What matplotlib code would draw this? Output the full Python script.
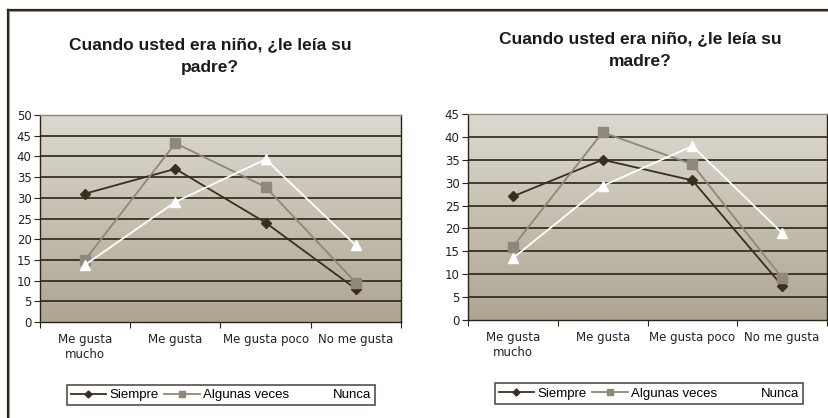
import matplotlib
matplotlib.use("Agg")
import matplotlib.pyplot as plt
import numpy as np
from matplotlib.lines import Line2D
from matplotlib.colors import LinearSegmentedColormap

categories = ["Me gusta\nmucho", "Me gusta", "Me gusta poco", "No me gusta"]
series_names = ["Siempre", "Algunas veces", "Nunca"]

padre_siempre = [31, 37, 24, 8]
padre_algunas = [15, 43.2, 32.6, 9.5]
padre_nunca = [13.8, 29, 39.3, 18.5]

madre_siempre = [27, 35, 30.5, 7.5]
madre_algunas = [16, 41, 34, 9.2]
madre_nunca = [13.5, 29.3, 38, 19]

padre_yticks = [0, 5, 10, 15, 20, 25, 30, 35, 40, 45, 50]
madre_yticks = [0, 5, 10, 15, 20, 25, 30, 35, 40, 45]

titles = ["Cuando usted era niño, ¿le leía su\npadre?", "Cuando usted era niño, ¿le leía su\nmadre?"]

colors = ["#3a2e1e", "#8f887a", "#ffffff"]
markers = ["D", "s", "^"]
msizes = [5.5, 6.5, 7]

dark = "#2b2417"
W, H = 829, 418
fig = plt.figure(figsize=(W / 100, H / 100), dpi=100)
fig.patch.set_facecolor("white")

# outer frame lines (top and left)
fig.add_artist(Line2D([8 / W, 1], [1 - 9.5 / H, 1 - 9.5 / H], color=dark, lw=1.6))
fig.add_artist(Line2D([8 / W, 1], [1 - 11 / H, 1 - 11 / H], color="#a09a8c", lw=0.8))
fig.add_artist(Line2D([8 / W, 8 / W], [0, 1 - 9.5 / H], color=dark, lw=1.6))
fig.add_artist(Line2D([9.5 / W, 9.5 / W], [0, 1 - 11 / H], color="#a09a8c", lw=0.8))

cmap = LinearSegmentedColormap.from_list("bg", ["#ddd9d0", "#aea693"])

panels = [
    dict(rect=[40 / W, 1 - 322 / H, 361 / W, 207 / H], data=[padre_siempre, padre_algunas, padre_nunca],
         yticks=padre_yticks, title=titles[0], tx=210 / W, ty=1 - 56 / H,
         leg=(221 / W, 1 - 395 / H)),
    dict(rect=[468 / W, 1 - 320 / H, 359 / W, 206 / H], data=[madre_siempre, madre_algunas, madre_nunca],
         yticks=madre_yticks, title=titles[1], tx=640 / W, ty=1 - 50 / H,
         leg=(649 / W, 1 - 393.5 / H)),
]

x = np.arange(len(categories)) + 0.5
for p in panels:
    ax = fig.add_axes(p["rect"])
    ymax = p["yticks"][-1]
    grad = np.linspace(0, 1, 256).reshape(-1, 1)
    ax.imshow(grad, cmap=cmap, aspect="auto", extent=[0, 4, 0, ymax], zorder=0, vmin=0, vmax=1)
    ax.set_xlim(0, 4)
    ax.set_ylim(0, ymax)
    for yv in p["yticks"][1:]:
        ax.axhline(yv, color=dark, lw=1.2, zorder=1)
    for i, (vals, c, m, ms) in enumerate(zip(p["data"], colors, markers, msizes)):
        ax.plot(x, vals, color=c, marker=m, markersize=ms, lw=1.3, zorder=3 + i,
                markeredgecolor=c, label=series_names[i])
    ax.set_yticks(p["yticks"])
    ax.set_xticks([0, 1, 2, 3, 4])
    ax.set_xticklabels([])
    ax.set_xticks(x, minor=True)
    ax.set_xticklabels(categories, minor=True, fontsize=8.5, color="#222222", family="DejaVu Sans")
    ax.tick_params(axis="x", which="minor", length=0, pad=8)
    ax.tick_params(axis="x", which="major", length=4, color=dark, direction="out")
    ax.tick_params(axis="y", length=4, color=dark, labelsize=8.5, labelcolor="#222222", pad=2)
    for lab in ax.get_yticklabels():
        lab.set_family("DejaVu Sans")
    for s in ["left", "bottom", "right", "top"]:
        ax.spines[s].set_color(dark)
        ax.spines[s].set_linewidth(1.0)
    ax.spines["top"].set_color("#8f887a")
    fig.text(p["tx"], p["ty"], p["title"], ha="center", va="center", fontsize=12.5,
             fontweight="bold", family="Liberation Sans", color="#1a1a1a", linespacing=1.6)
    handles, labels = ax.get_legend_handles_labels()
    leg = fig.legend(handles, labels, loc="center", bbox_to_anchor=p["leg"], ncol=3,
                     frameon=True, fancybox=False,
                     prop={"family": ["Liberation Sans"], "size": 9.5},
                     handlelength=2.7, handletextpad=0.25, columnspacing=0.4,
                     borderpad=0.3, markerscale=0.65)
    leg.get_frame().set_edgecolor(dark)
    leg.get_frame().set_linewidth(1.2)

fig.savefig("out.png", dpi=100)
